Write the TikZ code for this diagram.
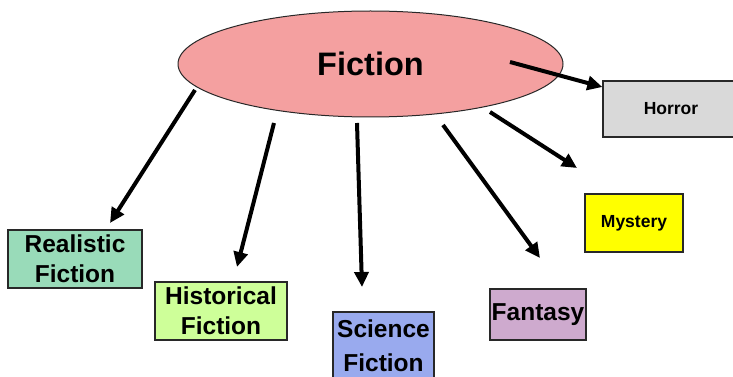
\documentclass[tikz,border=0pt]{standalone}
\usepackage{fontspec}
\setmainfont{Liberation Sans}
\usetikzlibrary{arrows.meta,shapes.geometric,calc}

\definecolor{ficpink}{RGB}{244,160,160}
\definecolor{realgreen}{RGB}{153,219,185}
\definecolor{histgreen}{RGB}{206,255,153}
\definecolor{scifiblue}{RGB}{153,170,238}
\definecolor{fantlilac}{RGB}{206,170,206}
\definecolor{mystyellow}{RGB}{255,255,0}
\definecolor{horrgray}{RGB}{217,217,217}
\definecolor{edgegray}{RGB}{40,40,40}

\tikzset{
  genrebox/.style={draw=edgegray, line width=1.3pt, rectangle, inner sep=0pt,
    align=center, font=\bfseries\fontsize{24.5}{30}\selectfont},
  smallbox/.style={genrebox, font=\bfseries\fontsize{17.5}{20}\selectfont},
  bigarrow/.style={line width=4pt, -{Triangle[length=15pt,width=14pt]}},
}

\begin{document}
\begin{tikzpicture}[x=1pt,y=-1pt]
\useasboundingbox (0,0) rectangle (733,377);

% central genre
\node[ellipse, draw=edgegray, line width=1pt, fill=ficpink,
      minimum width=385pt, minimum height=106pt, inner sep=0pt,
      font=\bfseries\fontsize{32.5}{36}\selectfont] (fic) at (370.5,64) {Fiction};

% sub-genres
\node[genrebox, fill=realgreen, minimum width=134pt, minimum height=58pt] (real) at (75,259) {Realistic\\Fiction};
\node[genrebox, fill=histgreen, minimum width=132pt, minimum height=58pt] (hist) at (221,311) {Historical\\Fiction};
\node[genrebox, fill=scifiblue, minimum width=101pt, minimum height=68pt,
      font=\bfseries\fontsize{24.5}{34}\selectfont] (sci) at (383.5,346) {Science\\Fiction};
\node[genrebox, fill=fantlilac, minimum width=96pt, minimum height=51pt] (fant) at (538,314.5) {Fantasy};
\node[smallbox, fill=mystyellow, minimum width=98pt, minimum height=58pt] (myst) at (634,223) {Mystery};
\node[smallbox, fill=horrgray, minimum width=136pt, minimum height=56pt] (horr) at (671,109) {Horror};

% arrow starts inside the ellipse
\coordinate (sReal) at ($(fic.center)+(-175.5,26)$);
\coordinate (sHist) at ($(fic.center)+(-96.5,59)$);
\coordinate (sSci)  at ($(fic.center)+(-13.5,59)$);
\coordinate (sFant) at ($(fic.center)+(72.5,61)$);
\coordinate (sMyst) at ($(fic.center)+(119.5,48)$);
\coordinate (sHorr) at ($(fic.center)+(139.5,-2)$);

% arrow tips short of the boxes
\coordinate (tReal) at (110,223);
\coordinate (tHist) at (237,267);
\coordinate (tSci)  at (362,287);
\coordinate (tFant) at (540,258);
\coordinate (tMyst) at (577,168);

\draw[bigarrow] (sReal) -- (tReal);
\draw[bigarrow] (sHist) -- (tHist);
\draw[bigarrow] (sSci)  -- (tSci);
\draw[bigarrow] (sFant) -- (tFant);
\draw[bigarrow] (sMyst) -- (tMyst);
\draw[bigarrow] (sHorr) -- ($(horr.west)+(0,-22)$);
\end{tikzpicture}
\end{document}
